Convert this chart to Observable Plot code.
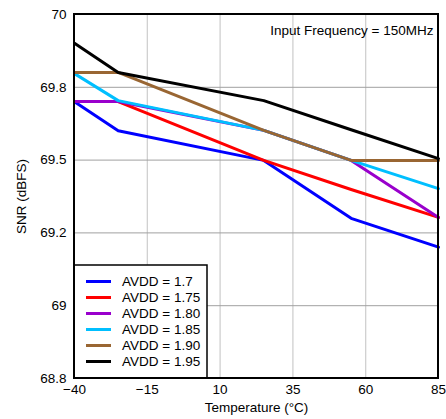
<!DOCTYPE html>
<html><head><meta charset="utf-8">
<script src="https://cdn.jsdelivr.net/npm/d3@7"></script>
<script src="https://cdn.jsdelivr.net/npm/@observablehq/plot@0.6"></script>
<style>body{margin:0;background:#fff;}</style>
</head><body><div id="chart"></div>
<script>
const temps = [-40, -25, 25, 55, 85];
const seriesNames = ["AVDD = 1.7", "AVDD = 1.75", "AVDD = 1.80", "AVDD = 1.85", "AVDD = 1.90", "AVDD = 1.95"];
const seriesColors = ["#0000ff", "#ff0000", "#9900cc", "#00bfff", "#996633", "#000000"];
const snr170 = [69.712, 69.617, 69.519, 69.328, 69.233];
const snr175 = [69.713, 69.713, 69.519, 69.423, 69.331];
const snr180 = [69.713, 69.713, 69.618, 69.519, 69.331];
const snr185 = [69.805, 69.716, 69.618, 69.519, 69.426];
const snr190 = [69.809, 69.809, 69.618, 69.519, 69.519];
const snr195 = [69.905, 69.809, 69.716, 69.62, 69.525];
const xTicks = [-40, -15, 10, 35, 60, 85];
const xTickLabels = ["\u221240", "\u221215", "10", "35", "60", "85"];
const yTicks = [68.8, 69.04, 69.28, 69.52, 69.76, 70];
const yTickLabels = ["68.8", "69", "69.2", "69.5", "69.8", "70"];
const annotation = "Input Frequency = 150MHz";

const allSeries = [snr170, snr175, snr180, snr185, snr190, snr195];
const rows = [];
allSeries.forEach((vals, i) => vals.forEach((v, j) => rows.push({series: seriesNames[i], t: temps[j], snr: v})));

const font = "'Liberation Sans', Arial, sans-serif";
const plot = Plot.plot({
  width: 446, height: 419,
  marginLeft: 74, marginRight: 8, marginTop: 14, marginBottom: 41,
  style: {fontFamily: font, fontSize: "13.5px", background: "#fff", color: "#000"},
  x: {domain: [-40, 85], ticks: xTicks, tickFormat: (d) => xTickLabels[xTicks.indexOf(d)], tickSize: 0, tickPadding: 6, label: "Temperature (°C)", labelArrow: "none", labelAnchor: "center", labelOffset: 33},
  y: {domain: [68.8, 70], ticks: yTicks, tickFormat: (d) => yTickLabels[yTicks.indexOf(d)], tickSize: 0, tickPadding: 8, label: "SNR (dBFS)", labelArrow: "none", labelAnchor: "center", labelOffset: 58},
  color: {domain: seriesNames, range: seriesColors},
  marks: [
    Plot.ruleX(xTicks.slice(1, -1), {stroke: "#cccccc", strokeWidth: 1.2}),
    Plot.ruleY(yTicks.slice(1, -1), {stroke: "#a0a0a0", strokeWidth: 1}),
    Plot.line(rows, {x: "t", y: "snr", z: "series", stroke: "series", strokeWidth: 3, strokeLinejoin: "round"}),
    Plot.text([annotation], {frameAnchor: "top-right", dx: -5, dy: 11, fontSize: 13.5, text: (d) => d})
  ]
});
document.getElementById("chart").appendChild(plot);

// legend inside plot area (bottom-left)
const svg = d3.select(plot);
const lg = svg.append("g").attr("font-family", font).attr("font-size", 13.5).attr("text-anchor", "start");
lg.append("rect").attr("x", 74).attr("y", 265).attr("width", 133).attr("height", 113)
  .attr("fill", "#fff").attr("stroke", "#000").attr("stroke-width", 1.5);
seriesNames.forEach((name, i) => {
  const y = 281.5 + i * 16;
  lg.append("line").attr("x1", 86).attr("x2", 111).attr("y1", y).attr("y2", y)
    .attr("stroke", seriesColors[i]).attr("stroke-width", 3);
  lg.append("text").attr("x", 122).attr("y", y).attr("dy", "0.35em").attr("fill", "#000").text(name);
});
// plot frame on top
svg.append("rect").attr("x", 74).attr("y", 14).attr("width", 364).attr("height", 364)
  .attr("fill", "none").attr("stroke", "#000").attr("stroke-width", 2);
</script></body></html>
